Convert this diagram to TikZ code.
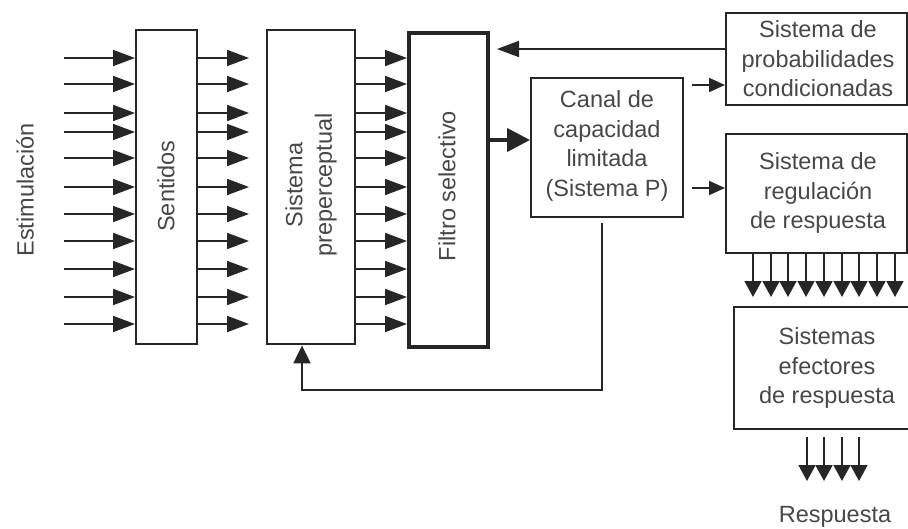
\documentclass[tikz,border=0pt]{standalone}
\usepackage{fontspec}
\setmainfont{Liberation Sans}
\usetikzlibrary{arrows.meta,calc}
\begin{document}
\begin{tikzpicture}[x=1pt,y=-1pt,
  box/.style={draw=black!85, line width=2.4pt, inner sep=0pt, anchor=north west},
  thickbox/.style={box, line width=4pt},
  txt/.style={text=black!72, font=\fontsize{23.5}{29.5}\selectfont, align=center, inner sep=0pt},
  arr/.style={draw=black!85, line width=1.8pt, -{Triangle[length=22pt,width=16pt]}},
  bigarr/.style={draw=black!85, line width=4pt, -{Triangle[length=23pt,width=23pt]}},
  smarr/.style={draw=black!85, line width=2pt, -{Triangle[length=16pt,width=14pt]}},
  downarr/.style={draw=black!85, line width=1.8pt, -{Triangle[length=16pt,width=17pt]}},
  fbarr/.style={draw=black!85, line width=2pt, -{Triangle[length=18pt,width=17pt]}}
]
\useasboundingbox (0,0) rectangle (908,528);

% boxes
\node[box, minimum width=61pt, minimum height=314pt] (sent) at (135,29) {};
\node[box, minimum width=88pt, minimum height=314pt] (pre) at (266,29) {};
\node[thickbox, minimum width=79pt, minimum height=314pt] (filt) at (407,31) {};
\node[box, minimum width=152pt, minimum height=139pt] (canal) at (530,77) {};
\node[box, minimum width=181pt, minimum height=92pt] (prob) at (725,12) {};
\node[box, minimum width=181pt, minimum height=119pt] (reg) at (725,133) {};
\node[box, minimum width=180pt, minimum height=122pt] (efec) at (733,306) {};

% labels
\node[txt, rotate=90] (estim) at (25,190) {Estimulación};
\node[txt, rotate=90] (sentL) at (166,186) {Sentidos};
\node[txt, rotate=90] (preL) at (311,185) {Sistema\\preperceptual};
\node[txt, rotate=90] (filtL) at (447,186) {Filtro selectivo};
\node[txt] (canalL) at (607,146) {Canal de\\capacidad\\limitada\\(Sistema P)};
\node[txt] (probL) at (818,59) {Sistema de\\probabilidades\\condicionadas};
\node[txt] (regL) at (818,193) {Sistema de\\regulación\\de respuesta};
\node[txt] (efecL) at (827,368) {Sistemas\\efectores\\de respuesta};
\node[txt] (resp) at (835,517) {Respuesta};

% parallel input arrows
\foreach \y in {58,84,113,132,158,187,214,241,269,297,324} {
  \draw[arr] (64,\y) -- (sent.west |- 0,\y);
  \draw[arr] (sent.east |- 0,\y) -- (249,\y);
  \draw[arr] (pre.east |- 0,\y) -- (filt.west |- 0,\y);
}

% filter -> canal
\draw[bigarr] (filt.east |- 0,140) -- (canal.west |- 0,140);
% prob -> filter
\coordinate (probend) at (497,49);
\draw[arr] (prob.west |- 0,49) -- (probend);
% canal -> prob, canal -> reg
\draw[smarr] (692,85) -- (prob.west |- 0,85);
\draw[smarr] (692,188) -- (reg.west |- 0,188);

% reg -> efectores
\foreach \x in {753,771,788,806,824,842,859,877,895} {
  \draw[downarr] (\x,252) -- (\x,297);
}
% efectores -> respuesta
\foreach \x in {807,824,842,859} {
  \draw[downarr] (\x,437) -- (\x,481);
}

% feedback canal -> preperceptual
\coordinate (fb1) at (602,223);
\coordinate (fb2) at (602,390);
\coordinate (fb3) at (302,390);
\draw[fbarr] (fb1) -- (fb2) -- (fb3) -- (pre.south -| fb3);
\end{tikzpicture}
\end{document}
